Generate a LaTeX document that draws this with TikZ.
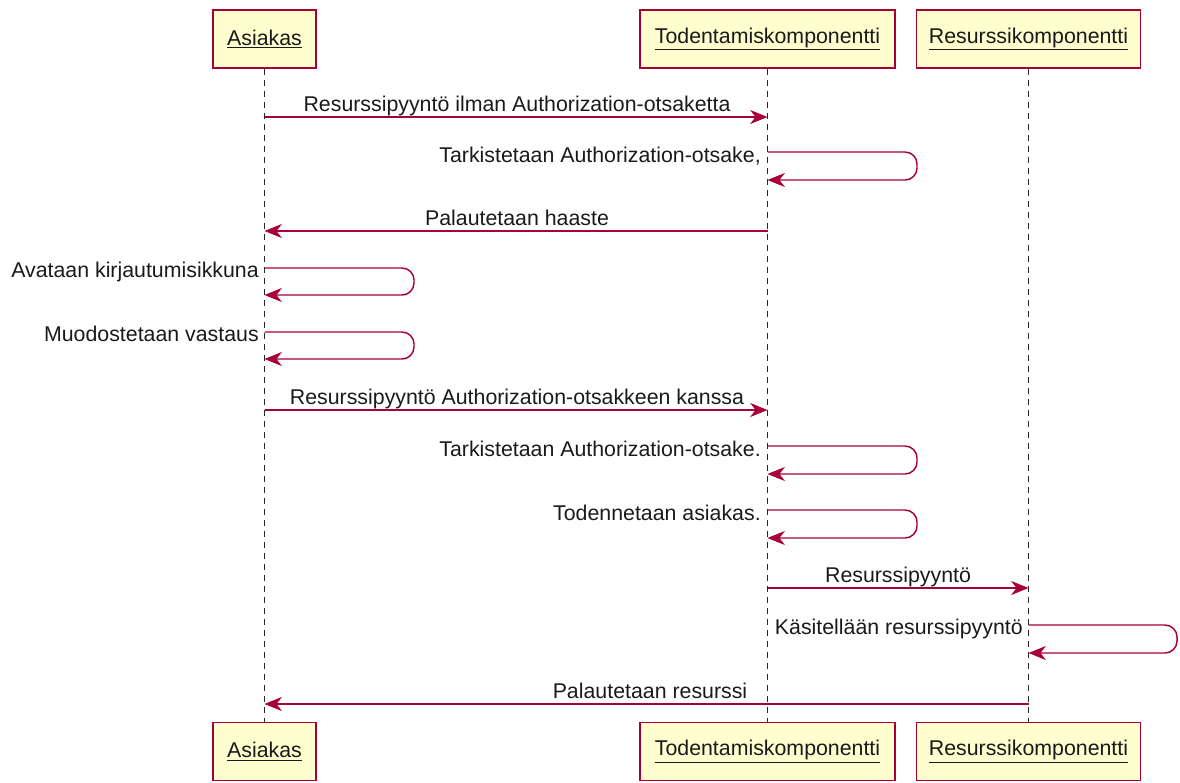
\documentclass[tikz,border=0pt]{standalone}
\usepackage{fontspec}
\setmainfont{Liberation Sans}
\usetikzlibrary{arrows.meta}
\definecolor{umlred}{HTML}{A80036}
\definecolor{umlfill}{HTML}{FEFECE}
\definecolor{umltext}{HTML}{1A1A1A}
\begin{document}
\begin{tikzpicture}[x=0.75pt,y=-0.75pt,
  every node/.style={font=\fontsize{16pt}{19pt}\selectfont, text=umltext},
  participant/.style={draw=umlred, fill=umlfill, line width=1.1pt,
    minimum height=43.5pt, inner sep=0pt},
  lifeline/.style={draw=black!85, line width=0.9pt, dash pattern=on 4.5pt off 3.75pt},
  msg/.style={draw=umlred, line width=1.1pt,
    -{Stealth[length=13pt, width=10.5pt, inset=4pt]}},
  selfmsg/.style={msg, rounded corners=9pt},
  lbl/.style={inner sep=0pt, anchor=base},
  selflbl/.style={inner sep=0pt, anchor=base east}]
\useasboundingbox (0,0) rectangle (1180,782);

% participants, top row
\node[participant, minimum width=77.25pt]  (a1) at (264.5,39)  {\underline{Asiakas}};
\node[participant, minimum width=191.25pt] (t1) at (767.5,39)  {\underline{Todentamiskomponentti}};
\node[participant, minimum width=168pt]    (r1) at (1028.5,39) {\underline{Resurssikomponentti}};
% participants, bottom row
\node[participant, minimum width=77.25pt]  (a2) at (264.5,751.5)  {\underline{Asiakas}};
\node[participant, minimum width=191.25pt] (t2) at (767.5,751.5)  {\underline{Todentamiskomponentti}};
\node[participant, minimum width=168pt]    (r2) at (1028.5,751.5) {\underline{Resurssikomponentti}};

% lifelines
\draw[lifeline] (a1.south) -- (a2.north);
\draw[lifeline] (t1.south) -- (t2.north);
\draw[lifeline] (r1.south) -- (r2.north);

% 1: request without header
\coordinate (m1a) at (a1.south |- 0,117);
\coordinate (m1t) at (t1.south |- 0,117);
\draw[msg] (m1a) -- (m1t);
\node[lbl] (l1) at (517,111) {Resurssipyyntö ilman Authorization-otsaketta};

% 2: header check
\coordinate (m2s) at (t1.south |- 0,152);
\coordinate (m2e) at (t1.south |- 0,180);
\draw[selfmsg] (m2s) -- (917,152) -- (917,180) -- (m2e);
\node[selflbl] (l2) at (761,162) {Tarkistetaan Authorization-otsake,};

% 3: challenge back to client
\coordinate (m3t) at (t1.south |- 0,231);
\coordinate (m3a) at (a1.south |- 0,231);
\draw[msg] (m3t) -- (m3a);
\node[lbl] (l3) at (517,225) {Palautetaan haaste};

% 4: login window
\coordinate (m4s) at (a1.south |- 0,268);
\coordinate (m4e) at (a1.south |- 0,295);
\draw[selfmsg] (m4s) -- (414,268) -- (414,295) -- (m4e);
\node[selflbl] (l4) at (259,277) {Avataan kirjautumisikkuna};

% 5: build response
\coordinate (m5s) at (a1.south |- 0,332);
\coordinate (m5e) at (a1.south |- 0,359);
\draw[selfmsg] (m5s) -- (414,332) -- (414,359) -- (m5e);
\node[selflbl] (l5) at (259,341) {Muodostetaan vastaus};

% 6: request with header
\coordinate (m6a) at (a1.south |- 0,410);
\coordinate (m6t) at (t1.south |- 0,410);
\draw[msg] (m6a) -- (m6t);
\node[lbl] (l6) at (517,404) {Resurssipyyntö Authorization-otsakkeen kanssa};

% 7: header check
\coordinate (m7s) at (t1.south |- 0,446);
\coordinate (m7e) at (t1.south |- 0,474);
\draw[selfmsg] (m7s) -- (917,446) -- (917,474) -- (m7e);
\node[selflbl] (l7) at (761,456) {Tarkistetaan Authorization-otsake.};

% 8: authenticate client
\coordinate (m8s) at (t1.south |- 0,510);
\coordinate (m8e) at (t1.south |- 0,538);
\draw[selfmsg] (m8s) -- (917,510) -- (917,538) -- (m8e);
\node[selflbl] (l8) at (761,520) {Todennetaan asiakas.};

% 9: forward request
\coordinate (m9t) at (t1.south |- 0,588);
\coordinate (m9r) at (r1.south |- 0,588);
\draw[msg] (m9t) -- (m9r);
\node[lbl] (l9) at (898,582) {Resurssipyyntö};

% 10: process request
\coordinate (m10s) at (r1.south |- 0,625);
\coordinate (m10e) at (r1.south |- 0,653);
\draw[selfmsg] (m10s) -- (1177,625) -- (1177,653) -- (m10e);
\node[selflbl] (l10) at (1023,634) {Käsitellään resurssipyyntö};

% 11: resource back to client
\coordinate (m11r) at (r1.south |- 0,704);
\coordinate (m11a) at (a1.south |- 0,704);
\draw[msg] (m11r) -- (m11a);
\node[lbl] (l11) at (650,698) {Palautetaan resurssi};
\end{tikzpicture}
\end{document}
